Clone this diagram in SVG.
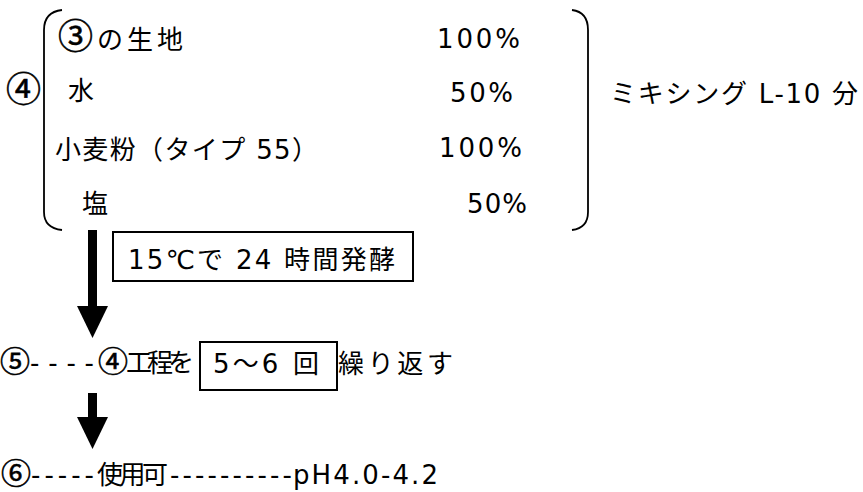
<svg xmlns="http://www.w3.org/2000/svg" width="863" height="492" viewBox="0 0 863 492">
<style>
text{font-family:"DejaVu Sans","Noto Sans CJK JP",sans-serif;font-size:26px;fill:#000}
.c{font-family:"Noto Sans CJK JP",sans-serif;font-size:35px;stroke:#000;stroke-width:0.6}
.s{font-family:"Noto Sans CJK JP",sans-serif;font-size:30px;stroke:#000;stroke-width:0.6}
.br{fill:none;stroke:#000;stroke-width:1.8}
.box{fill:none;stroke:#000;stroke-width:2}
.arrow{fill:#000;stroke:none}
</style>
<rect width="863" height="492" fill="#fff"/>
<g id="ingredients">
<path class="br" d="M62,10 Q44,12 44,30 L44,212 Q44,228 62,230"/>
<path class="br" d="M572,10 Q588,12 588,30 L588,212 Q588,228 572,230"/>
<text class="c" x="6" y="102">④</text>
<text x="58" y="49"><tspan class="c">③</tspan><tspan x="97" textLength="86" lengthAdjust="spacing">の生地</tspan></text>
<text x="68" y="100">水</text>
<text x="55" y="159" textLength="263" lengthAdjust="spacing">小麦粉（タイプ 55）</text>
<text x="82" y="213">塩</text>
<text x="437" y="48" textLength="83" lengthAdjust="spacing">100%</text>
<text x="450" y="102" textLength="63" lengthAdjust="spacing">50%</text>
<text x="439" y="157" textLength="83" lengthAdjust="spacing">100%</text>
<text x="467" y="213" textLength="60" lengthAdjust="spacing">50%</text>
</g>
<g id="mixing">
<text x="610" y="103" textLength="248" lengthAdjust="spacing">ミキシング L-10 分</text>
</g>
<g id="ferment">
<rect class="box" x="113" y="232" width="300" height="49"/>
<text x="128" y="269" textLength="267" lengthAdjust="spacing">15℃で 24 時間発酵</text>
</g>
<g id="step5">
<text y="372"><tspan class="s" x="0">⑤</tspan><tspan x="30" textLength="64" lengthAdjust="spacing">----</tspan><tspan class="s" x="98">④</tspan><tspan x="126" textLength="68" lengthAdjust="spacing">工程を</tspan></text>
<rect class="box" x="200" y="342" width="137" height="48"/>
<text x="213" y="373" textLength="106" lengthAdjust="spacing">5〜6 回</text>
<text x="338" y="373" textLength="115" lengthAdjust="spacing">繰り返す</text>
</g>
<g id="step6">
<text y="484"><tspan class="s" x="1">⑥</tspan><tspan x="31" textLength="63" lengthAdjust="spacing">-----</tspan><tspan x="97" textLength="71" lengthAdjust="spacing">使用可</tspan><tspan x="170" textLength="122" lengthAdjust="spacing">----------</tspan><tspan x="293" textLength="145" lengthAdjust="spacing">pH4.0-4.2</tspan></text>
</g>
<g id="connectors">
<rect class="arrow" x="88" y="230" width="9" height="77"/>
<polygon class="arrow" points="77,306 108,306 92.5,338"/>
<rect class="arrow" x="88" y="393" width="9" height="25"/>
<polygon class="arrow" points="77,417 108,417 92.5,449"/>
</g>
</svg>
